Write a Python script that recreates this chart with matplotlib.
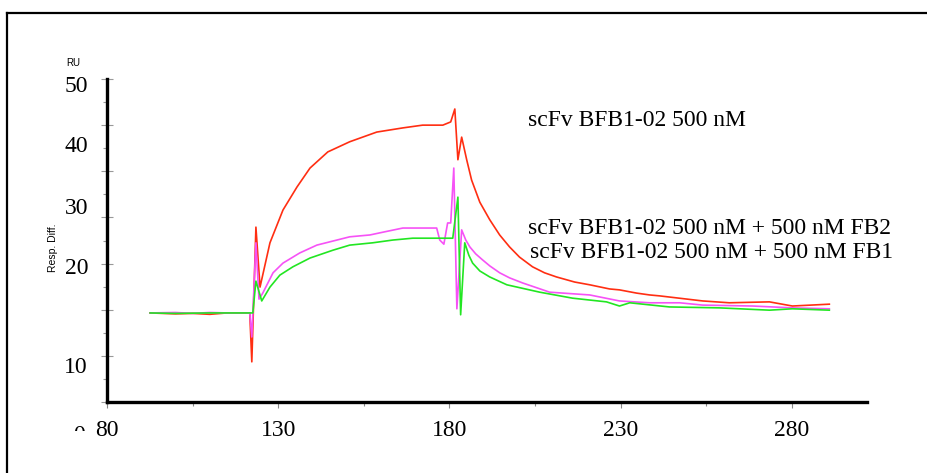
import matplotlib
matplotlib.use("Agg")
import matplotlib.pyplot as plt
from matplotlib.ticker import FixedLocator, MultipleLocator
from matplotlib.transforms import Bbox

# sensorgram traces (time in s, response in axis units)
red_t = [92.6, 100, 105, 110, 115, 121.7, 122.3, 123.5, 124.7, 127.6, 131.4, 135.5, 139.3, 144.5,
         150.9, 158.8, 166.4, 172.2, 178.1, 180.4, 181.6, 182.5, 183.6, 185.1, 186.5, 188.9,
         191.8, 194.7, 197.6, 200.5, 204.3, 207.8, 211.3, 216.6, 221.0, 226.8, 229.7, 234.7,
         238.5, 241.4, 254.0, 261.8, 273.5, 280.2, 291.0]
red_y = [19.3, 19.1, 19.2, 19.0, 19.3, 19.3, 8.7, 37.9, 24.9, 34.5, 41.6, 46.6, 50.7, 54.2,
         56.4, 58.5, 59.4, 60.0, 60.0, 60.7, 63.5, 52.5, 57.4, 52.4, 48.1, 43.3,
         39.5, 36.2, 33.6, 31.4, 29.3, 28.0, 27.1, 26.0, 25.4, 24.5, 24.3, 23.6,
         23.2, 23.0, 21.9, 21.5, 21.7, 20.8, 21.2]

mag_t = [92.6, 100, 105, 110, 115, 121.7, 122.3, 123.5, 124.4, 125.5, 128.5, 131.4, 136.3, 141.3,
         150.9, 156.8, 160.6, 166.4, 173.4, 176.3, 177.2, 178.4, 179.5, 180.4, 181.3, 182.2,
         183.6, 184.8, 186.0, 187.7, 189.7, 191.8, 194.7, 197.6, 201.4, 209.3, 221.0, 229.7,
         238.5, 247.3, 254.0, 268.6, 280.2, 291.0]
mag_y = [19.3, 19.4, 19.2, 19.4, 19.3, 19.3, 14.1, 34.5, 22.3, 23.6, 28.0, 30.1, 32.3, 34.0,
         35.8, 36.2, 36.8, 37.7, 37.7, 37.7, 35.1, 34.2, 38.8, 38.8, 50.7, 20.2,
         37.3, 35.1, 33.6, 32.1, 30.8, 29.5, 28.0, 26.9, 25.8, 23.8, 23.2, 21.9,
         21.5, 21.5, 21.0, 20.8, 20.4, 20.2]

grn_t = [92.6, 100, 110, 122.3, 122.6, 123.5, 125.2, 127.6, 130.5, 134.3, 139.3, 146.0, 150.9,
         157.6, 163.5, 169.3, 175.2, 181.0, 182.5, 183.3, 184.5, 185.7, 186.8, 188.9, 191.8,
         196.8, 206.4, 216.0, 225.9, 229.7, 232.7, 244.3, 258.9, 273.5, 280.2, 291.0]
grn_y = [19.3, 19.2, 19.3, 19.3, 19.3, 26.2, 21.9, 24.9, 27.5, 29.3, 31.2, 32.9, 34.0,
         34.5, 35.1, 35.5, 35.5, 35.5, 44.4, 18.9, 34.5, 31.8, 30.1, 28.4, 27.1,
         25.4, 23.8, 22.5, 21.7, 20.8, 21.5, 20.6, 20.4, 19.9, 20.2, 19.9]

labels = ["scFv BFB1-02 500 nM",
          "scFv BFB1-02 500 nM + 500 nM FB2",
          "scFv BFB1-02 500 nM + 500 nM FB1"]
xticks = [80, 130, 180, 230, 280]
xminor = [105, 155, 205, 255]
ytick_text = ["50", "40", "30", "20", "10"]
ytick_px = [86, 147, 208, 269, 367]

W, H = 927, 473
fig = plt.figure(figsize=(W / 100, H / 100), dpi=100)
ax = fig.add_axes([107 / W, 1 - 402 / H, 760 / W, 323 / H])

ax.plot(red_t, red_y, color="#ff2e12", lw=1.2)
ax.plot(mag_t, mag_y, color="#f652f6", lw=1.2)
ax.plot(grn_t, grn_y, color="#22e622", lw=1.2)

ax.set_xlim(80, 302)
ax.set_ylim(0, 70)
for s in ["top", "right"]:
    ax.spines[s].set_visible(False)
for s in ["left", "bottom"]:
    ax.spines[s].set_linewidth(2.4)

ax.xaxis.set_major_locator(FixedLocator(xticks))
ax.xaxis.set_minor_locator(FixedLocator(xminor))
ax.yaxis.set_major_locator(MultipleLocator(10))
ax.yaxis.set_minor_locator(MultipleLocator(5))
ax.tick_params(axis="x", which="major", direction="out", length=4, width=0.8,
               color="#888888", pad=9, labelsize=17, labelfontfamily="Liberation Serif")
ax.tick_params(axis="x", which="minor", direction="out", length=3, width=0.8, color="#888888")
ax.tick_params(axis="y", which="major", direction="inout", length=8, width=0.8,
               color="#999999", labelleft=False)
ax.tick_params(axis="y", which="minor", direction="out", length=3, width=0.8, color="#999999")

serif = "Liberation Serif"
for t, py in zip(ytick_text, ytick_px):
    fig.text(88 / W, 1 - py / H, t, ha="right", va="center", fontsize=17, family=serif)

# clipped "0" remnant at the lower left corner
z = fig.text(79 / W, 1 - 435 / H, "0", ha="center", va="center", fontsize=17, family=serif)
z.set_clip_box(Bbox.from_extents(0, H - 431, W, H))

fig.text(73 / W, 1 - 63 / H, "RU", ha="center", va="center", fontsize=7, family="Liberation Sans")
fig.text(53 / W, 1 - 248 / H, "Resp. Diff.", ha="center", va="center", rotation=90,
         fontsize=7.5, family="Liberation Sans")

fig.text(528 / W, 1 - 120 / H, labels[0], ha="left", va="center", fontsize=17, family=serif)
fig.text(528 / W, 1 - 228 / H, labels[1], ha="left", va="center", fontsize=17, family=serif)
fig.text(530 / W, 1 - 253 / H, labels[2], ha="left", va="center", fontsize=17, family=serif)

# outer frame running off the right and bottom edges
fig.add_artist(plt.Line2D([7 / W, 7 / W], [0, 1 - 13 / H], color="black", lw=1.6))
fig.add_artist(plt.Line2D([7 / W, 1], [1 - 13 / H, 1 - 13 / H], color="black", lw=1.6))

fig.savefig("out.png", dpi=100)
